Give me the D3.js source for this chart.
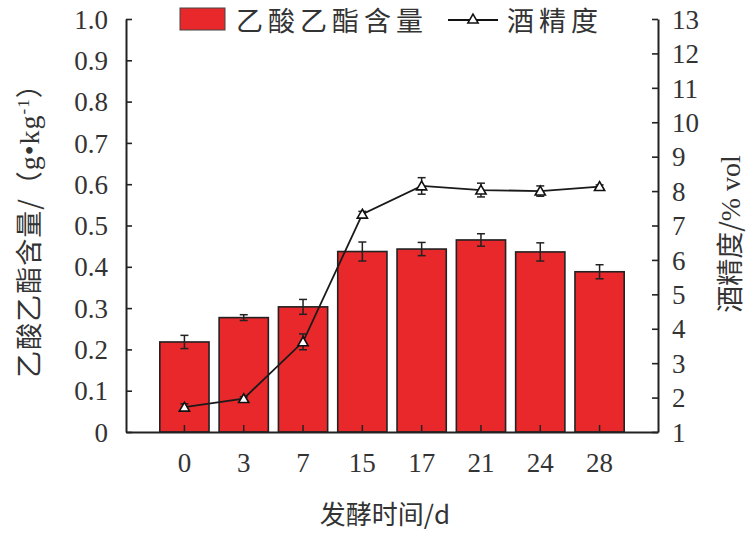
<!DOCTYPE html>
<html><head><meta charset="utf-8">
<script src="https://cdn.jsdelivr.net/npm/d3@7"></script>
<style>
body{margin:0;background:#fff;}
svg{display:block;}
</style></head>
<body>
<svg id="c" width="753" height="538"></svg>
<script>
const days = ["0","3","7","15","17","21","24","28"];
const esterValues = [0.218, 0.277, 0.303, 0.437, 0.443, 0.465, 0.436, 0.388];
const esterErrors = [0.016, 0.007, 0.018, 0.023, 0.016, 0.015, 0.022, 0.017];
const alcoholValues = [1.72, 1.97, 3.62, 7.33, 8.15, 8.03, 8.00, 8.13];
const alcoholErrors = [0.10, 0.05, 0.23, 0.08, 0.24, 0.20, 0.15, 0.05];
const leftTicks = [0,0.1,0.2,0.3,0.4,0.5,0.6,0.7,0.8,0.9,1.0];
const rightTicks = [1,2,3,4,5,6,7,8,9,10,11,12,13];

const svg = d3.select("#c");
const m = {l:126, r:658, t:19, b:432};
const numFont = "'Liberation Serif', 'Times New Roman', serif";
const cjkFont = "'Noto Sans CJK SC', sans-serif";
const txt = "#333";

const x = d3.scaleBand().domain(days).range([m.l, m.r]).paddingInner(0.17).paddingOuter(0.57);
const yL = d3.scaleLinear().domain([0,1]).range([m.b, m.t]);
const yR = d3.scaleLinear().domain([1,13]).range([m.b, m.t]);

// bars
const g = svg.append("g");
g.selectAll("rect.bar").data(esterValues).join("rect")
  .attr("class","bar")
  .attr("x",(d,i)=>x(days[i]))
  .attr("width",x.bandwidth())
  .attr("y",d=>yL(d))
  .attr("height",d=>yL(0)-yL(d))
  .attr("fill","#e8282a").attr("stroke","#222").attr("stroke-width",1.6);

// bar error bars
const cx = i => x(days[i]) + x.bandwidth()/2;
esterValues.forEach((v,i)=>{
  const e = esterErrors[i];
  g.append("line").attr("x1",cx(i)).attr("x2",cx(i)).attr("y1",yL(v+e)).attr("y2",yL(v-e)).attr("stroke","#222").attr("stroke-width",1.5);
  [v+e,v-e].forEach(t=>g.append("line").attr("x1",cx(i)-4).attr("x2",cx(i)+4).attr("y1",yL(t)).attr("y2",yL(t)).attr("stroke","#222").attr("stroke-width",1.5));
});

// x ticks (inward)
days.forEach((d,i)=>{
  g.append("line").attr("x1",cx(i)).attr("x2",cx(i)).attr("y1",m.b).attr("y2",m.b-7).attr("stroke","#222").attr("stroke-width",1.5);
});

// line
const line = d3.line().x((d,i)=>cx(i)).y(d=>yR(d));
g.append("path").datum(alcoholValues).attr("d",line).attr("fill","none").attr("stroke","#1a1a1a").attr("stroke-width",1.8);
alcoholValues.forEach((v,i)=>{
  const e = alcoholErrors[i];
  g.append("line").attr("x1",cx(i)).attr("x2",cx(i)).attr("y1",yR(v+e)).attr("y2",yR(v-e)).attr("stroke","#222").attr("stroke-width",1.5);
  [v+e,v-e].forEach(t=>g.append("line").attr("x1",cx(i)-4).attr("x2",cx(i)+4).attr("y1",yR(t)).attr("y2",yR(t)).attr("stroke","#222").attr("stroke-width",1.5));
});
const tri = d3.symbol().type(d3.symbolTriangle).size(45);
g.selectAll("path.pt").data(alcoholValues).join("path").attr("class","pt")
  .attr("d",tri).attr("transform",(d,i)=>`translate(${cx(i)},${yR(d)+1})`)
  .attr("fill","#fff").attr("stroke","#111").attr("stroke-width",1.6);

// axes
const axL = svg.append("g").attr("transform",`translate(${m.l},0)`)
  .call(d3.axisLeft(yL).tickValues(leftTicks).tickSizeInner(-6).tickSizeOuter(0).tickPadding(18)
    .tickFormat(d=>d===0?"0":d3.format(".1f")(d)));
const axR = svg.append("g").attr("transform",`translate(${m.r},0)`)
  .call(d3.axisRight(yR).tickValues(rightTicks).tickSizeInner(-6).tickSizeOuter(0).tickPadding(14).tickFormat(d3.format("d")));
const axB = svg.append("g").attr("transform",`translate(0,${m.b})`)
  .call(d3.axisBottom(x).tickSize(0).tickPadding(20));
[axL,axR,axB].forEach(a=>{
  a.selectAll(".domain").attr("stroke","#222").attr("stroke-width",2);
  a.selectAll(".tick line").attr("stroke","#222").attr("stroke-width",1.6);
  a.selectAll("text").attr("font-family",numFont).attr("font-size",27).attr("fill",txt);
});
axL.selectAll("text").attr("dy","0.34em");
axR.selectAll("text").attr("dy","0.34em");
axB.selectAll("text").attr("dy","0.75em");

// titles
svg.append("text").attr("transform","translate(385,524)").attr("text-anchor","middle")
  .attr("font-family",cjkFont).attr("font-size",26).attr("fill",txt)
  .text("发酵时间/d");
const lt = svg.append("text").attr("transform","translate(39,224) rotate(-90)").attr("text-anchor","middle")
  .attr("font-family",cjkFont).attr("font-size",27).attr("fill",txt).attr("letter-spacing",1);
lt.append("tspan").text("乙酸乙酯含量/（");
lt.append("tspan").attr("font-family",numFont).attr("font-size",28).text("g•kg");
lt.append("tspan").attr("font-family",numFont).attr("font-size",17).attr("dy",-10).text("-1");
lt.append("tspan").attr("dy",10).text("）");
const rt = svg.append("text").attr("transform","translate(740,234) rotate(-90)").attr("text-anchor","middle")
  .attr("font-family",cjkFont).attr("font-size",27).attr("fill",txt);
rt.append("tspan").text("酒精度/");
rt.append("tspan").attr("font-family",numFont).attr("font-size",28).text("% vol");

// legend
svg.append("rect").attr("x",180).attr("y",8).attr("width",45).attr("height",22)
  .attr("fill","#e8282a").attr("stroke","#444").attr("stroke-width",1);
svg.append("text").attr("x",236).attr("y",31).attr("font-family",cjkFont).attr("font-size",27).attr("letter-spacing",5).attr("fill",txt).text("乙酸乙酯含量");
svg.append("line").attr("x1",448).attr("x2",498).attr("y1",20).attr("y2",20).attr("stroke","#111").attr("stroke-width",1.8);
svg.append("path").attr("d",tri).attr("transform","translate(473,20)").attr("fill","#fff").attr("stroke","#111").attr("stroke-width",1.6);
svg.append("text").attr("x",507).attr("y",31).attr("font-family",cjkFont).attr("font-size",27).attr("letter-spacing",5).attr("fill",txt).text("酒精度");
</script>
</body></html>
